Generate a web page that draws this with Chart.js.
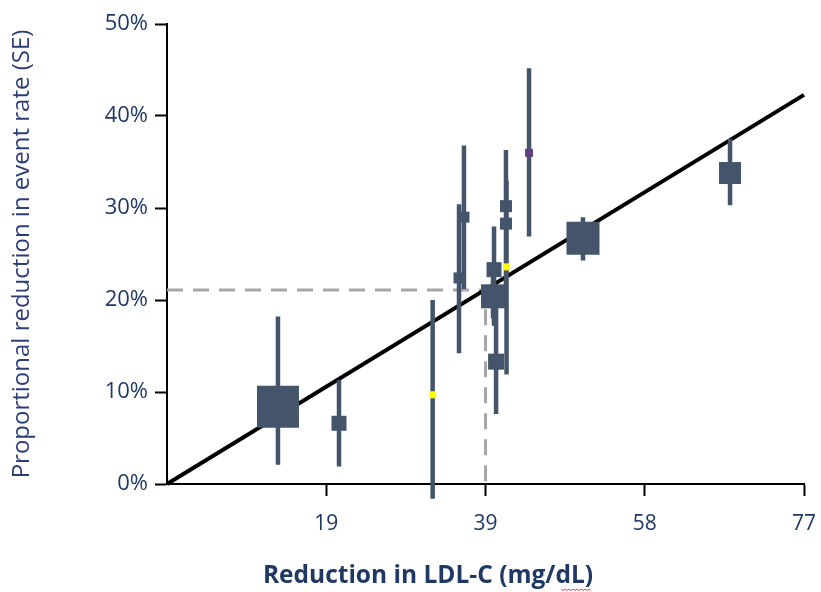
<!DOCTYPE html>
<html><head><meta charset="utf-8">
<script src="https://cdn.jsdelivr.net/npm/chart.js@4.4.1/dist/chart.umd.min.js"></script>
<style>html,body{margin:0;padding:0;background:#fff;} #wrap{width:821px;height:592px;position:relative;}</style>
</head><body><div id="wrap"><canvas id="c" width="821" height="592"></canvas></div>
<script>
const xTitle = 'Reduction in LDL-C (mg/dL)';
const yTitle = 'Proportional reduction in event rate (SE)';
const xTickValues = [0, 19.33, 38.67, 58, 77.33];
const xTickLabels = ['', '19', '39', '58', '77'];
const yTickValues = [0, 10, 20, 30, 40, 50];
const yTickLabels = ['0%', '10%', '20%', '30%', '40%', '50%'];

// trials: LDL-C reduction (mg/dL) vs proportional reduction in event rate (%)
const ldlReduction  = [13.47, 20.88, 32.25, 35.45, 36.05, 39.58, 39.70, 39.95, 41.15, 41.15, 41.22, 43.95, 50.5, 68.35];
const riskReduction = [8.4,   6.6,   9.7,   22.4,  29.0,  20.4,  23.3,  13.3,  30.2,  28.3,  23.6,  36.0,  26.7, 33.8];
const seLow         = [2.1,   1.9,   -1.6,  14.2,  21.2,  18.0,  17.2,  7.6,   24.1,  19.9,  11.9,  26.9,  24.3, 30.3];
const seHigh        = [18.2,  11.3,  20.0,  30.4,  36.8,  22.5,  28.0,  19.9,  36.3,  33.6,  33.0,  45.2,  29.0, 37.5];

const regressionX = [0, 77.33];
const regressionY = [0, 42.3];
const refLineX = [0, 38.67, 38.67];
const refLineY = [21.1, 21.1, 0];

// marker sizes (px side) and colours
const boxSide = [42, 15, 7, 11, 11, 24, 15, 16, 12, 12, 7, 8, 33, 22];
const BOX = '#44546A', YEL = '#FFFF00', PUR = '#60407F';
const boxColor = [BOX, BOX, YEL, BOX, BOX, BOX, BOX, BOX, BOX, BOX, YEL, PUR, BOX, BOX];

const TXT = '#1F3864';
const FONT = '"Open Sans", Lato, sans-serif';

const errData = [];
ldlReduction.forEach((x, i) => {
  errData.push({x: x, y: seLow[i]}, {x: x, y: seHigh[i]}, {x: x, y: null});
});

const xTitlePlugin = {
  id: 'xTitlePlugin',
  afterDraw(chart) {
    const ctx = chart.ctx;
    ctx.save();
    ctx.font = 'bold 24.5px ' + FONT;
    ctx.fillStyle = TXT;
    ctx.textAlign = 'center';
    ctx.textBaseline = 'middle';
    const cx = 428, cy = 576;
    ctx.fillText(xTitle, cx, cy);
    // spell-check squiggle under "dL"
    const w = ctx.measureText(xTitle).width;
    const endX = cx + w / 2 - 2;
    const startX = endX - 30;
    ctx.strokeStyle = '#E04040';
    ctx.lineWidth = 1;
    ctx.beginPath();
    for (let x = startX, k = 0; x <= endX; x += 2, k++) {
      const y = cy + 13 + (k % 2 ? 1.5 : 0);
      if (k === 0) ctx.moveTo(x, y); else ctx.lineTo(x, y);
    }
    ctx.stroke();
    ctx.restore();
  }
};

new Chart(document.getElementById('c'), {
  type: 'scatter',
  data: {
    datasets: [
      { data: refLineX.map((x, i) => ({x: x, y: refLineY[i]})), showLine: true, borderColor: '#A6A6A6', borderWidth: 3, borderDash: [16, 10], pointRadius: 0, order: 3 },
      { data: regressionX.map((x, i) => ({x: x, y: regressionY[i]})), showLine: true, borderColor: '#000000', borderWidth: 4, pointRadius: 0, order: 2, clip: false },
      { data: errData, showLine: true, spanGaps: false, borderColor: BOX, borderWidth: 4.5, pointRadius: 0, order: 1, clip: false },
      { data: ldlReduction.map((x, i) => ({x: x, y: riskReduction[i]})), pointStyle: 'rect', pointRadius: boxSide.map(s => s / 1.41421356), backgroundColor: boxColor, borderWidth: 0, order: 0, clip: false }
    ]
  },
  options: {
    responsive: false,
    animation: false,
    events: [],
    layout: { autoPadding: false, padding: { left: 0, right: 17, top: 24, bottom: 0 } },
    plugins: { legend: { display: false }, tooltip: { enabled: false } },
    scales: {
      x: {
        type: 'linear', min: 0, max: 77.33,
        afterBuildTicks: s => { s.ticks = xTickValues.map(v => ({value: v})); },
        afterFit: s => { s.height = 108; s.paddingRight = 0; s.paddingLeft = 0; },
        ticks: { callback: (v, i) => xTickLabels[i], color: TXT, font: { family: FONT, size: 21 }, padding: 15, maxRotation: 0, autoSkip: false },
        grid: { drawOnChartArea: false, tickLength: 12, tickWidth: 2, tickColor: c => (c.tick && c.tick.value === 0) ? 'rgba(0,0,0,0)' : '#000' },
        border: { color: '#000', width: 2 }
      },
      y: {
        type: 'linear', min: 0, max: 50,
        afterBuildTicks: s => { s.ticks = yTickValues.map(v => ({value: v})); },
        afterFit: s => { s.width = 167; s.paddingTop = 0; s.paddingBottom = 0; },
        ticks: { callback: (v, i) => yTickLabels[i], color: TXT, font: { family: FONT, size: 22 }, padding: 7, autoSkip: false },
        grid: { drawOnChartArea: false, tickLength: 12, tickWidth: 2, tickColor: '#000' },
        border: { color: '#000', width: 2 },
        title: { display: true, text: yTitle, color: '#2C3D7A', font: { family: FONT, size: 24 }, padding: { top: 8, bottom: 0 } }
      }
    }
  },
  plugins: [xTitlePlugin]
});
</script></body></html>
